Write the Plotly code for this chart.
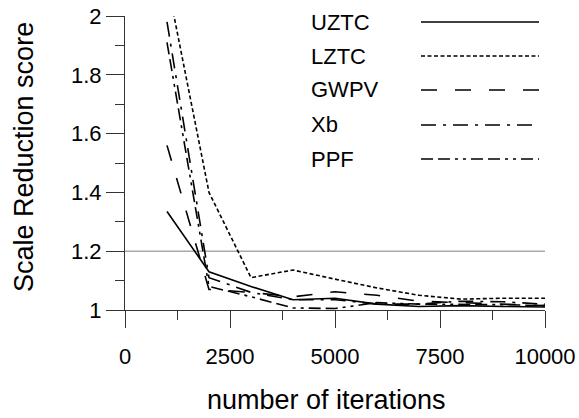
import plotly.graph_objects as go

# ---- data ----
iterations = [1000, 2000, 3000, 4000, 5000, 6000, 7000, 8000, 9000, 10000]
series_names = ["UZTC", "LZTC", "GWPV", "Xb", "PPF"]
uztc = [1.335, 1.13, 1.08, 1.035, 1.04, 1.02, 1.012, 1.015, 1.012, 1.01]
lztc = [2.12, 1.40, 1.11, 1.136, 1.105, 1.075, 1.05, 1.037, 1.04, 1.04]
gwpv = [1.56, 1.07, 1.06, 1.045, 1.062, 1.05, 1.03, 1.025, 1.02, 1.015]
xb = [1.98, 1.11, 1.06, 1.035, 1.035, 1.02, 1.02, 1.03, 1.028, 1.02]
ppf = [1.91, 1.08, 1.045, 1.007, 1.005, 1.025, 1.02, 1.02, 1.018, 1.015]
x_ticks = [0, 2500, 5000, 7500, 10000]
y_ticks = [1, 1.2, 1.4, 1.6, 1.8, 2]
threshold = 1.2

series_values = [uztc, lztc, gwpv, xb, ppf]
dashes = ["solid", "4px,2.5px", "16px,18px", "15px,7px,3px,7px",
          "12px,5px,12px,5px,3px,5px,3px,5px"]

W, H = 579, 418
L, R, T, B = 125, 34, 16, 108
PW, PH = W - L - R, H - T - B

def px_x(p):
    return (p - L) / PW

def px_y(p):
    return (H - B - p) / PH

FONT = "Liberation Sans, Arial, sans-serif"

fig = go.Figure()
for name, vals, d in zip(series_names, series_values, dashes):
    fig.add_trace(go.Scatter(x=iterations, y=vals, mode="lines", name=name,
                             line=dict(color="black", width=1.6, dash=d),
                             showlegend=False))

shapes = [dict(type="line", xref="paper", yref="y", x0=0, x1=1,
               y0=threshold, y1=threshold,
               line=dict(color="#aaaaaa", width=1.5), layer="below")]
annotations = []
row_y = [22, 56, 90, 125, 159]
for name, d, ry in zip(series_names, dashes, row_y):
    annotations.append(dict(text=name, xref="paper", yref="paper",
                            x=px_x(309), y=px_y(ry), xanchor="left",
                            yanchor="middle", showarrow=False,
                            font=dict(size=22, color="black", family=FONT)))
    shapes.append(dict(type="line", xref="paper", yref="paper",
                       x0=px_x(421), x1=px_x(539), y0=px_y(ry), y1=px_y(ry),
                       line=dict(color="black", width=1.6, dash=d)))

annotations.append(dict(text="Scale Reduction score", xref="paper", yref="paper",
                        x=px_x(24), y=px_y(157), textangle=-90,
                        xanchor="center", yanchor="middle", showarrow=False,
                        font=dict(size=27, color="black", family=FONT)))
annotations.append(dict(text="number of iterations", xref="paper", yref="paper",
                        x=px_x(326), y=px_y(400), xanchor="center",
                        yanchor="middle", showarrow=False,
                        font=dict(size=27, color="black", family=FONT)))

axis_common = dict(showgrid=False, zeroline=False, showline=True,
                   linecolor="#333333", linewidth=1, ticks="outside",
                   tickcolor="#333333", tickwidth=1, automargin=False,
                   tickfont=dict(size=22, color="black", family=FONT))

fig.update_layout(
    width=W, height=H,
    margin=dict(l=L, r=R, t=T, b=B, pad=0, autoexpand=False),
    paper_bgcolor="white", plot_bgcolor="white",
    font=dict(family=FONT, color="black"),
    shapes=shapes, annotations=annotations,
    xaxis=dict(range=[0, 10000], tickvals=x_ticks,
               ticktext=[str(v) for v in x_ticks], ticklen=17,
               ticklabelstandoff=10,
               minor=dict(dtick=1250, tick0=0, ticklen=9, ticks="outside",
                          tickcolor="#333333", tickwidth=1),
               **axis_common),
    yaxis=dict(range=[1, 2], tickvals=y_ticks,
               ticktext=[f"{v:g}" for v in y_ticks], ticklen=18,
               minor=dict(dtick=0.1, tick0=1, ticklen=9, ticks="outside",
                          tickcolor="#333333", tickwidth=1),
               **axis_common),
)

fig.write_html("out.html")
